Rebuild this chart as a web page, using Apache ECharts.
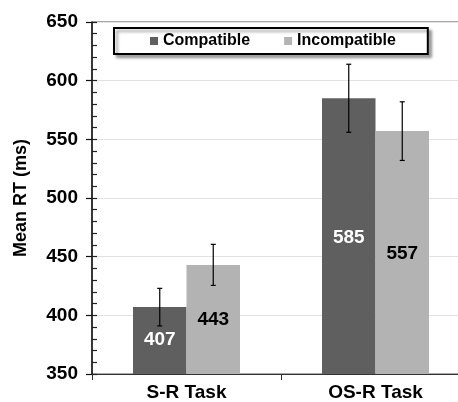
<!DOCTYPE html>
<html>
<head>
<meta charset="utf-8">
<script src="https://cdn.jsdelivr.net/npm/echarts@6/dist/echarts.min.js"></script>
<style>
  html, body { margin: 0; padding: 0; background: #fff; }
  #chart { width: 458px; height: 402px; }
</style>
</head>
<body>
<div id="chart"></div>
<script>
// Mean reaction times per task and condition, with error bar half-widths
const categories = ['S-R Task', 'OS-R Task'];
const seriesNames = ['Compatible', 'Incompatible'];
const compatible = [407, 585];
const incompatible = [443, 557];
const compatibleErr = [16, 29];
const incompatibleErr = [17.5, 25];
const yTicks = { min: 350, max: 650, step: 50, minorStep: 10 };

const FONT = "'Liberation Sans', Arial, sans-serif";
const BAR_W = 53.5;
const DARK = '#5f5f5f';
const LIGHT = '#b3b3b3';

// distance of each value label below its bar's top
const labelDrop = { Compatible: [33, 139.5], Incompatible: [54.5, 122.5] };

function barData(values, name, color) {
  return values.map((v, i) => ({
    value: v,
    label: {
      show: true,
      position: ['50%', labelDrop[name][i]],
      align: 'center',
      verticalAlign: 'middle',
      color: color,
      fontFamily: FONT,
      fontWeight: 'bold',
      fontSize: 19
    }
  }));
}

function errorSeries(values, errs, side) {
  return {
    type: 'custom',
    silent: true,
    z: 5,
    data: values.map((v, i) => [i, v - errs[i], v + errs[i]]),
    renderItem: function (params, api) {
      const lo = api.coord([api.value(0), api.value(1)]);
      const hi = api.coord([api.value(0), api.value(2)]);
      const x = lo[0] + side * BAR_W / 2;
      const cap = 2.5;
      const style = { stroke: '#000', lineWidth: 1.2 };
      return {
        type: 'group',
        children: [
          { type: 'line', shape: { x1: x, y1: lo[1], x2: x, y2: hi[1] }, style: style },
          { type: 'line', shape: { x1: x - cap, y1: lo[1], x2: x + cap, y2: lo[1] }, style: style },
          { type: 'line', shape: { x1: x - cap, y1: hi[1], x2: x + cap, y2: hi[1] }, style: style }
        ]
      };
    }
  };
}

const chart = echarts.init(document.getElementById('chart'), null, { renderer: 'canvas' });
chart.setOption({
  animation: false,
  backgroundColor: '#fff',
  textStyle: { fontFamily: FONT },
  grid: {
    left: 92, top: 22, width: 378, height: 352,
    outerBoundsMode: 'none',
    containLabel: false,
    show: true, borderColor: '#555', borderWidth: 1, backgroundColor: 'transparent'
  },
  legend: {
    data: seriesNames,
    left: 114, top: 28,
    padding: [5, 32, 5, 36],
    itemGap: 34,
    itemWidth: 8, itemHeight: 8,
    icon: 'rect',
    backgroundColor: '#fff',
    borderColor: '#000',
    borderWidth: 2,
    shadowColor: 'rgba(0,0,0,0.35)',
    shadowBlur: 3,
    shadowOffsetX: 3,
    shadowOffsetY: 3,
    textStyle: { fontFamily: FONT, fontWeight: 'bold', fontSize: 16, color: '#000', lineHeight: 16 }
  },
  xAxis: {
    type: 'category',
    data: categories,
    axisLine: { lineStyle: { color: '#333', width: 1 } },
    axisTick: { show: true, length: 6, lineStyle: { color: '#333' } },
    axisLabel: { margin: 9, color: '#000', fontFamily: FONT, fontWeight: 'bold', fontSize: 19 },
    splitLine: { show: false }
  },
  yAxis: [
    {
      type: 'value',
      position: 'left',
      min: yTicks.min, max: yTicks.max, interval: yTicks.step,
      name: 'Mean RT (ms)',
      nameLocation: 'middle',
      nameGap: 62,
      nameTextStyle: { color: '#000', fontFamily: FONT, fontWeight: 'bold', fontSize: 18 },
      axisLine: { show: true, lineStyle: { color: '#111', width: 1.5 } },
      axisTick: { show: true, length: 6, lineStyle: { color: '#111', width: 1.2 } },
      axisLabel: { margin: 14, color: '#000', fontFamily: FONT, fontWeight: 'bold', fontSize: 19 },
      splitLine: { show: true, lineStyle: { color: '#e2e2e2', width: 1 } }
    },
    {
      // inner minor ticks along the value axis
      type: 'value',
      position: 'left',
      min: yTicks.min, max: yTicks.max, interval: yTicks.minorStep,
      axisLine: { show: false },
      axisTick: { show: true, inside: true, length: 5, lineStyle: { color: '#222', width: 1.2 } },
      axisLabel: { show: false },
      splitLine: { show: false }
    }
  ],
  series: [
    {
      name: seriesNames[0], type: 'bar', barWidth: BAR_W, barGap: 0,
      itemStyle: { color: DARK },
      data: barData(compatible, 'Compatible', '#fff')
    },
    {
      name: seriesNames[1], type: 'bar', barWidth: BAR_W, barGap: 0,
      itemStyle: { color: LIGHT },
      data: barData(incompatible, 'Incompatible', '#000')
    },
    errorSeries(compatible, compatibleErr, -1),
    errorSeries(incompatible, incompatibleErr, 1)
  ]
});
</script>
</body>
</html>
